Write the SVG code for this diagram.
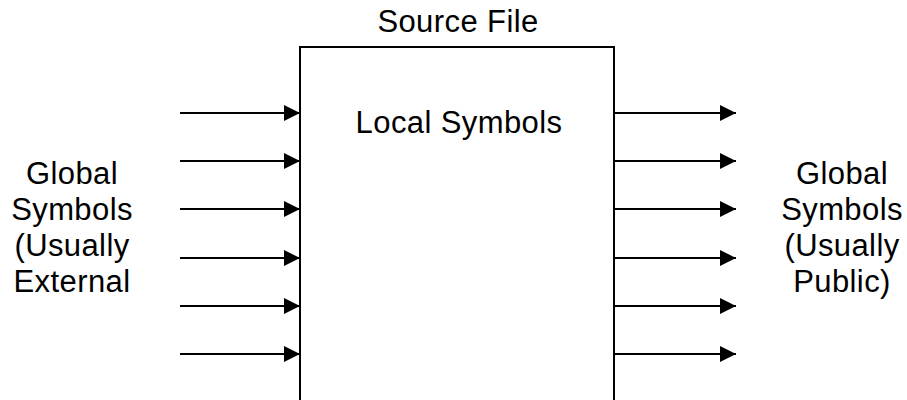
<svg xmlns="http://www.w3.org/2000/svg" width="907" height="400" viewBox="0 0 907 400">
  <style>
    text { font-family: "Liberation Sans", Arial, sans-serif; font-size: 31px; letter-spacing: 0.4px; fill: #000; text-anchor: middle; }
    .edge { stroke: #000; stroke-width: 2; fill: none; }
    .box { stroke: #000; stroke-width: 2; fill: #fff; }
  </style>
  <defs>
    <marker id="arrow" markerUnits="userSpaceOnUse" viewBox="0 0 16 16" refX="16" refY="8" markerWidth="16" markerHeight="16" orient="auto">
      <path d="M0,0 L16,8 L0,16 Z" fill="#000"/>
    </marker>
  </defs>

  <g id="source-file">
    <text x="458" y="32">Source File</text>
    <rect class="box" x="300" y="47" width="314" height="370"/>
    <text x="459" y="133">Local Symbols</text>
  </g>

  <g id="external-globals">
    <text x="72" y="184">Global</text>
    <text x="72" y="220">Symbols</text>
    <text x="72" y="256">(Usually</text>
    <text x="72" y="292">External</text>
  </g>

  <g id="public-globals">
    <text x="842" y="184">Global</text>
    <text x="842" y="220">Symbols</text>
    <text x="842" y="256">(Usually</text>
    <text x="842" y="292">Public)</text>
  </g>

  <g id="connectors">
    <line class="edge" x1="180" y1="113" x2="300" y2="113" marker-end="url(#arrow)"/>
    <line class="edge" x1="180" y1="161" x2="300" y2="161" marker-end="url(#arrow)"/>
    <line class="edge" x1="180" y1="209" x2="300" y2="209" marker-end="url(#arrow)"/>
    <line class="edge" x1="180" y1="258" x2="300" y2="258" marker-end="url(#arrow)"/>
    <line class="edge" x1="180" y1="306" x2="300" y2="306" marker-end="url(#arrow)"/>
    <line class="edge" x1="180" y1="354" x2="300" y2="354" marker-end="url(#arrow)"/>

    <line class="edge" x1="614" y1="113" x2="736" y2="113" marker-end="url(#arrow)"/>
    <line class="edge" x1="614" y1="161" x2="736" y2="161" marker-end="url(#arrow)"/>
    <line class="edge" x1="614" y1="209" x2="736" y2="209" marker-end="url(#arrow)"/>
    <line class="edge" x1="614" y1="258" x2="736" y2="258" marker-end="url(#arrow)"/>
    <line class="edge" x1="614" y1="306" x2="736" y2="306" marker-end="url(#arrow)"/>
    <line class="edge" x1="614" y1="354" x2="736" y2="354" marker-end="url(#arrow)"/>
  </g>
</svg>
